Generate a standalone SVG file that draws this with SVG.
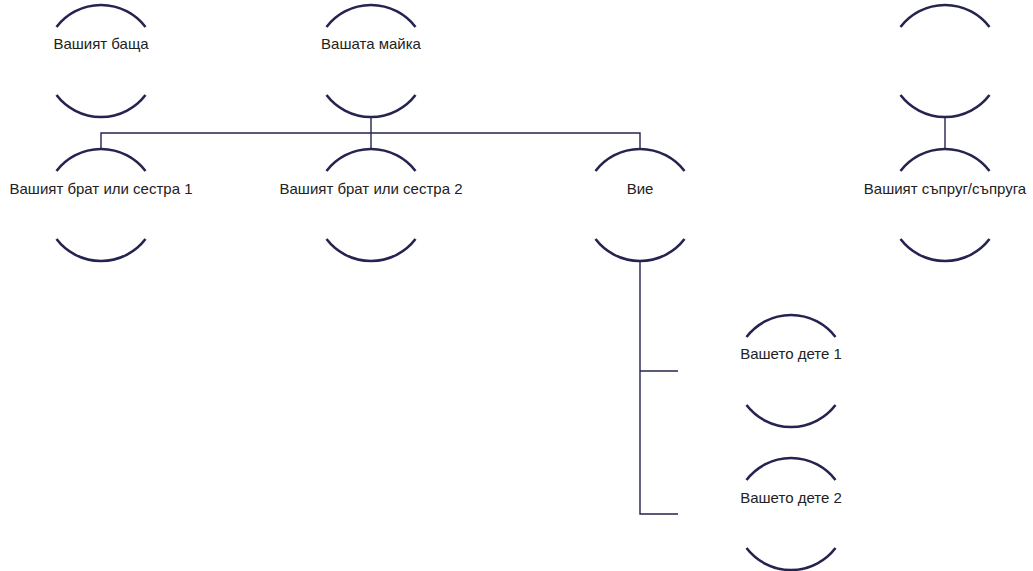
<svg xmlns="http://www.w3.org/2000/svg" xmlns:xlink="http://www.w3.org/1999/xlink" width="1033" height="571" viewBox="0 0 1033 571">
<style>
.arc{fill:none;stroke:#25234f;stroke-width:2.6;stroke-linecap:butt}
.con{fill:none;stroke:#25234f;stroke-width:1.4}
.lbl{font-family:"Liberation Sans",Arial,sans-serif;font-size:15px;fill:#222;text-anchor:middle}
</style>
<defs>
<g id="ring">
<path class="arc" d="M -44.5 -34 A 56 56 0 0 1 44.5 -34"/>
<path class="arc" d="M -44.5 34 A 56 56 0 0 0 44.5 34"/>
</g>
</defs>
<rect width="1033" height="571" fill="#fff"/>
<g id="connectors">
<path class="con" d="M 371 117 V 149"/>
<path class="con" d="M 101 149 V 133 H 640 V 149"/>
<path class="con" d="M 945 117 V 149"/>
<path class="con" d="M 640 261 V 514 H 678"/>
<path class="con" d="M 640 371 H 678"/>
</g>
<g id="father"><use xlink:href="#ring" x="101" y="61"/><text class="lbl" x="101" y="49">Вашият баща</text></g>
<g id="mother"><use xlink:href="#ring" x="371" y="61"/><text class="lbl" x="371" y="49">Вашата майка</text></g>
<g id="spouse-parent"><use xlink:href="#ring" x="945" y="61"/></g>
<g id="sibling1"><use xlink:href="#ring" x="101" y="205"/><text class="lbl" x="101" y="194">Вашият брат или сестра 1</text></g>
<g id="sibling2"><use xlink:href="#ring" x="371" y="205"/><text class="lbl" x="371" y="194">Вашият брат или сестра 2</text></g>
<g id="you"><use xlink:href="#ring" x="640" y="205"/><text class="lbl" x="640" y="194">Вие</text></g>
<g id="spouse"><use xlink:href="#ring" x="945" y="205"/><text class="lbl" x="945" y="194">Вашият съпруг/съпруга</text></g>
<g id="child1"><use xlink:href="#ring" x="791" y="371"/><text class="lbl" x="791" y="359">Вашето дете 1</text></g>
<g id="child2"><use xlink:href="#ring" x="791" y="514"/><text class="lbl" x="791" y="503">Вашето дете 2</text></g>
</svg>
